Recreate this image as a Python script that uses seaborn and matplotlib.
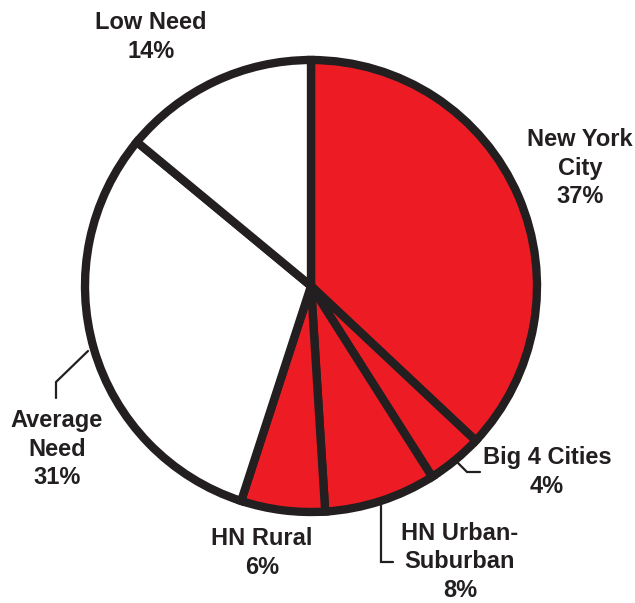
import matplotlib
matplotlib.use("Agg")
import matplotlib.pyplot as plt
import seaborn as sns

# Share of the total by district group
groups = ["New York\nCity", "Big 4 Cities", "HN Urban-\nSuburban", "HN Rural",
          "Average\nNeed", "Low Need"]
shares = [37, 4, 8, 6, 31, 14]
high_need = [True, True, True, True, False, False]

RED = "#ED1C24"
INK = "#231F20"

sns.set_theme(style="white")
plt.rcParams["font.family"] = ["Liberation Sans", "DejaVu Sans"]

W, H = 635, 603
fig = plt.figure(figsize=(W / 100, H / 100), dpi=100)
ax = fig.add_axes([0, 0, 1, 1])

colors = [RED if h else "white" for h in high_need]
ax.pie(shares, colors=colors, startangle=90, counterclock=False,
       center=(311, H - 286), radius=226, frame=False,
       wedgeprops=dict(edgecolor=INK, linewidth=6.0, joinstyle="miter"))

ax.set_xlim(0, W)
ax.set_ylim(0, H)
ax.set_aspect("equal")
ax.axis("off")

# label anchor points (pixel layout, y from top)
label_pos = [(580, 168), (547, 472), (460, 562), (262, 553), (57, 449), (151, 37)]
for name, val, (x, y) in zip(groups, shares, label_pos):
    ax.text(x, H - y, f"{name}\n{val}%", ha="center", va="center",
            fontsize=17, fontweight="bold", color=INK, linespacing=1.33)

# leader lines for the labels that sit away from their slice
leaders = [
    [(88, 351), (56, 382), (56, 398)],
    [(457, 462), (467, 472), (480, 472)],
    [(381, 503), (381, 562), (393, 562)],
]
for pts in leaders:
    xs = [p[0] for p in pts]
    ys = [H - p[1] for p in pts]
    ax.plot(xs, ys, color=INK, linewidth=1.6, solid_joinstyle="miter")

fig.savefig("out.png", dpi=100, facecolor="white")
